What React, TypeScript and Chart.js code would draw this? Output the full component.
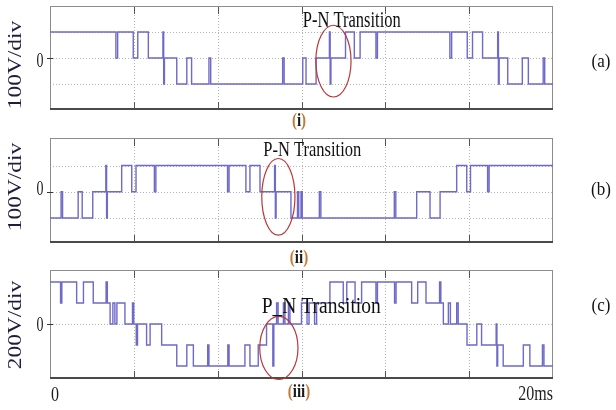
import React, { useEffect, useRef } from 'react';
import { Chart, registerables } from 'chart.js';

Chart.register(...registerables);

// ---------------- data ----------------
const timeRangeMs = [0, 20];
const timeTickLabels = ['0', '20ms'];
const panelLetters = ['(a)', '(b)', '(c)'];
const romanNumerals = ['i', 'ii', 'iii'];
const voltageTitles = ['100V/div', '100V/div', '200V/div'];
const zeroTickLabel = '0';
const transitionLabels = ['P-N Transition', 'P-N Transition', 'P_N Transition'];

// [time in ms, output level] — each level holds until the next time
const stepsA: [number, number][] = [
  [0, 1],
  [2.62, 0], [2.69, 1],
  [3.31, 0], [3.49, 1],
  [3.91, 0],
  [4.49, 1], [4.52, -1], [4.55, 0],
  [5.04, -1], [5.44, 0], [5.63, -1],
  [6.32, 0], [6.39, -1],
  [9.25, 0], [9.31, -1],
  [10.05, 0], [10.18, -1],
  [10.58, 0],
  [11.11, 1], [11.14, -1], [11.17, 0],
  [11.75, 1], [12.1, 0], [12.33, 1],
  [12.96, 0], [13.02, 1],
  [15.9, 0], [15.97, 1],
  [16.59, 0], [16.8, 1], [17.2, 0],
  [17.8, 1], [17.83, -1], [17.86, 0],
  [18.2, -1], [18.78, 0], [19.02, -1],
  [19.61, 0], [19.67, -1],
  [20, -1],
];

const stepsB: [number, number][] = [
  [0, -1],
  [0.44, 0], [0.5, -1],
  [1.12, 0], [1.28, -1],
  [1.7, 0],
  [2.22, 1], [2.25, -1], [2.28, 0],
  [2.85, 1], [3.25, 0], [3.42, 1],
  [4.15, 0], [4.21, 1],
  [7.06, 0], [7.12, 1],
  [7.79, 0], [7.95, 1],
  [8.35, 0],
  [8.93, 1], [8.96, -1], [8.99, 0],
  [9.58, -1],
  [9.84, 0], [9.89, -1],
  [9.98, 0], [10.03, -1],
  [10.71, 0], [10.77, -1],
  [13.69, 0], [13.75, -1],
  [14.58, 0], [15.11, -1], [15.51, 0],
  [16.17, 1], [16.57, 0], [16.72, 1],
  [17.4, 0], [17.46, 1],
  [20, 1],
];

const stepsC: [number, number][] = [
  [0, 2],
  [0.42, 1], [0.47, 2],
  [1.06, 1], [1.33, 2],
  [1.72, 1],
  [2.23, 2], [2.28, 1],
  [2.39, 0], [2.5, 1],
  [2.58, 0], [2.66, 1],
  [2.98, 0],
  [3.28, 1], [3.33, 0],
  [3.43, -1], [3.48, 0],
  [3.84, -1], [3.98, 0],
  [4.44, -1],
  [5.04, -2], [5.44, -1], [5.7, -2],
  [6.27, -1], [6.32, -2],
  [7.07, -1], [7.12, -2],
  [7.75, -1], [7.95, -2],
  [8.28, -1],
  [8.61, 0],
  [8.86, -2], [8.9, 0],
  [9.01, 1], [9.07, 0],
  [9.28, 1], [9.34, 0],
  [9.48, 1], [9.54, 0],
  [10.0, 1],
  [10.22, 0], [10.3, 1],
  [10.52, 0], [10.6, 1],
  [11.13, 2],
  [11.66, 1], [11.8, 2],
  [12.13, 1], [12.39, 2],
  [12.96, 1], [13.02, 2],
  [13.7, 1], [13.76, 2],
  [14.38, 1], [14.62, 2], [14.95, 1],
  [15.49, 2], [15.54, 1],
  [15.64, 0],
  [15.84, 1], [15.92, 0],
  [16.17, 1], [16.23, 0],
  [16.58, -1], [16.97, 0], [17.16, -1],
  [17.74, 0], [17.77, -2], [17.8, -1],
  [18.02, -2], [18.82, -1], [19.08, -2],
  [19.58, -1], [19.64, -2],
  [20, -2],
];

// ---------------- styling / layout ----------------
const SERIF = '"Liberation Serif", "Times New Roman", serif';
const TRACE_COLOR = 'rgb(110,106,200)';
const X_DIVISIONS = 6;

type PanelCfg = {
  idx: number;
  steps: [number, number][];
  top: number;
  bottom: number;
  yMin: number;
  yMax: number;
  gridLevels: number[];
  ellipse: { t: number; v: number; rt: number; rv: number };
  label: { t: number; v: number; size: number; sy: number };
  titleY: number;
  zeroY: number;
  letterY: number;
  romanY: number;
  showTimeLabels: boolean;
};

const panels: PanelCfg[] = [
  {
    idx: 0, steps: stepsA, top: 6, bottom: 110, yMin: -2, yMax: 2, gridLevels: [-1, 0, 1],
    ellipse: { t: 11.27, v: -0.12, rt: 0.7, rv: 1.38 },
    label: { t: 10.05, v: 1.19, size: 16.5, sy: 1.35 },
    titleY: 65, zeroY: 62, letterY: 62, romanY: 121, showTimeLabels: false,
  },
  {
    idx: 1, steps: stepsB, top: 138, bottom: 243, yMin: -1.95, yMax: 2.05, gridLevels: [-1, 0, 1],
    ellipse: { t: 9.08, v: -0.19, rt: 0.66, rv: 1.46 },
    label: { t: 8.48, v: 1.36, size: 16.5, sy: 1.25 },
    titleY: 187, zeroY: 190, letterY: 190, romanY: 258, showTimeLabels: false,
  },
  {
    idx: 2, steps: stepsC, top: 270, bottom: 379, yMin: -2.62, yMax: 2.57, gridLevels: [0],
    ellipse: { t: 9.1, v: -1.14, rt: 0.76, rv: 1.5 },
    label: { t: 8.42, v: 0.52, size: 19.5, sy: 1.15 },
    titleY: 325, zeroY: 326, letterY: 306, romanY: 392, showTimeLabels: true,
  },
];

function drawText(
  ctx: CanvasRenderingContext2D, text: string, x: number, y: number, font: string, color: string,
  align: CanvasTextAlign, baseline: CanvasTextBaseline, sx = 1, sy = 1, rot = 0,
) {
  ctx.save();
  ctx.translate(x, y);
  if (rot) ctx.rotate(rot);
  ctx.scale(sx, sy);
  ctx.font = font;
  ctx.fillStyle = color;
  ctx.textAlign = align;
  ctx.textBaseline = baseline;
  ctx.fillText(text, 0, 0);
  ctx.restore();
}

function drawRoman(ctx: CanvasRenderingContext2D, roman: string, cx: number, cy: number) {
  ctx.save();
  ctx.translate(cx, cy);
  ctx.scale(1, 1.2);
  ctx.font = `bold 15px ${SERIF}`;
  ctx.textBaseline = 'middle';
  ctx.textAlign = 'left';
  const wp = ctx.measureText('(').width;
  const wr = ctx.measureText(roman).width;
  const wc = ctx.measureText(')').width;
  const x0 = -(wp + wr + wc) / 2;
  ctx.fillStyle = '#c27a35';
  ctx.fillText('(', x0, 0);
  ctx.fillStyle = '#1a1a1a';
  ctx.fillText(roman, x0 + wp, 0);
  ctx.fillStyle = '#c27a35';
  ctx.fillText(')', x0 + wp + wr, 0);
  ctx.restore();
}

function makePlugin(cfg: PanelCfg) {
  return {
    id: 'scopePanel' + cfg.idx,
    beforeDatasetsDraw(chart: any) {
      const { ctx, chartArea: a, scales } = chart;
      const xs = scales.x;
      const ys = scales.y;
      ctx.save();
      // dotted grid
      ctx.lineWidth = 1;
      ctx.strokeStyle = '#b4b4b4';
      ctx.setLineDash([1, 2]);
      const step = (timeRangeMs[1] - timeRangeMs[0]) / X_DIVISIONS;
      for (let i = 1; i < X_DIVISIONS; i++) {
        const px = Math.round(xs.getPixelForValue(timeRangeMs[0] + i * step)) + 0.5;
        ctx.beginPath();
        ctx.moveTo(px, a.top);
        ctx.lineTo(px, a.bottom);
        ctx.stroke();
      }
      for (const lv of cfg.gridLevels) {
        const py = Math.round(ys.getPixelForValue(lv)) + 0.5;
        ctx.beginPath();
        ctx.moveTo(a.left, py);
        ctx.lineTo(a.right, py);
        ctx.stroke();
      }
      ctx.setLineDash([]);
      // solid division marks at top/bottom
      ctx.strokeStyle = '#555';
      for (let i = 1; i < X_DIVISIONS; i++) {
        const px = Math.round(xs.getPixelForValue(timeRangeMs[0] + i * step)) + 0.5;
        ctx.beginPath();
        ctx.moveTo(px, a.top);
        ctx.lineTo(px, a.top + 8);
        ctx.moveTo(px, a.bottom - 8);
        ctx.lineTo(px, a.bottom);
        ctx.stroke();
      }
      // frame
      ctx.strokeStyle = '#8c8c8c';
      ctx.lineWidth = 1;
      ctx.strokeRect(a.left + 0.5, a.top + 0.5, a.right - a.left - 1, a.bottom - a.top - 1);
      ctx.strokeStyle = '#4a4a4a';
      ctx.lineWidth = 2;
      ctx.beginPath();
      ctx.moveTo(a.left, a.bottom - 1);
      ctx.lineTo(a.right, a.bottom - 1);
      ctx.stroke();
      // zero tick
      const zy = Math.round(ys.getPixelForValue(0)) + 0.5;
      ctx.lineWidth = 1;
      ctx.strokeStyle = '#333';
      ctx.beginPath();
      ctx.moveTo(a.left - 3, zy);
      ctx.lineTo(a.left + 3, zy);
      ctx.stroke();
      ctx.restore();
    },
    afterDatasetsDraw(chart: any) {
      const { ctx, chartArea: a, scales } = chart;
      const xs = scales.x;
      const ys = scales.y;
      const e = cfg.ellipse;
      const cx = xs.getPixelForValue(e.t);
      const cy = ys.getPixelForValue(e.v);
      const rx = Math.abs(xs.getPixelForValue(e.t + e.rt) - cx);
      const ry = Math.abs(ys.getPixelForValue(e.v + e.rv) - cy);
      ctx.save();
      ctx.strokeStyle = '#b8383a';
      ctx.lineWidth = 1.2;
      ctx.beginPath();
      ctx.ellipse(cx, cy, rx, ry, 0, 0, Math.PI * 2);
      ctx.stroke();
      ctx.restore();

      const l = cfg.label;
      drawText(ctx, transitionLabels[cfg.idx], xs.getPixelForValue(l.t), ys.getPixelForValue(l.v),
        `${l.size}px ${SERIF}`, '#111', 'left', 'alphabetic', 1, l.sy);

      // y title
      drawText(ctx, voltageTitles[cfg.idx], 16, cfg.titleY, `18px ${SERIF}`, '#1e1e3c', 'center', 'middle', 1.3, 1, -Math.PI / 2);
      // zero label
      drawText(ctx, zeroTickLabel, 40, cfg.zeroY, `14px ${SERIF}`, '#1e1e1e', 'center', 'middle', 1, 1.45);
      // panel letter
      drawText(ctx, panelLetters[cfg.idx], 601, cfg.letterY, `17px ${SERIF}`, '#111', 'center', 'middle', 1, 1.1);
      // roman numeral
      drawRoman(ctx, romanNumerals[cfg.idx], 299, cfg.romanY);
      // time labels
      if (cfg.showTimeLabels) {
        drawText(ctx, timeTickLabels[0], xs.getPixelForValue(timeRangeMs[0]) + 1, 395.5, `16px ${SERIF}`, '#1e1e1e', 'left', 'middle', 1, 1.3);
        drawText(ctx, timeTickLabels[1], xs.getPixelForValue(timeRangeMs[1]), 395, `16px ${SERIF}`, '#1e1e1e', 'right', 'middle', 1, 1.3);
      }
    },
  };
}

function Panel({ cfg }: { cfg: PanelCfg }) {
  const ref = useRef<HTMLCanvasElement>(null);
  useEffect(() => {
    const chart = new Chart(ref.current as HTMLCanvasElement, {
      type: 'line',
      data: {
        datasets: [
          {
            data: cfg.steps.map(([t, v]) => ({ x: t, y: v })),
            stepped: true,
            borderColor: TRACE_COLOR,
            borderWidth: 1.4,
            pointRadius: 0,
            fill: false,
          },
        ],
      },
      options: {
        responsive: false,
        animation: false,
        devicePixelRatio: 1,
        events: [],
        layout: { padding: { left: 50, right: 616 - 553, top: cfg.top, bottom: 410 - cfg.bottom } },
        plugins: { legend: { display: false }, tooltip: { enabled: false } },
        scales: {
          x: { type: 'linear', min: timeRangeMs[0], max: timeRangeMs[1], display: false },
          y: { type: 'linear', min: cfg.yMin, max: cfg.yMax, display: false },
        },
      },
      plugins: [makePlugin(cfg)],
    } as any);
    return () => chart.destroy();
  }, [cfg]);
  return (
    <canvas
      ref={ref}
      width={616}
      height={410}
      style={{ position: 'absolute', left: 0, top: 0, width: 616, height: 410 }}
    />
  );
}

export default function App() {
  return (
    <div style={{ position: 'fixed', left: 0, top: 0, width: 616, height: 410, background: '#fff', overflow: 'hidden' }}>
      {panels.map((p) => (
        <Panel key={p.idx} cfg={p} />
      ))}
    </div>
  );
}
